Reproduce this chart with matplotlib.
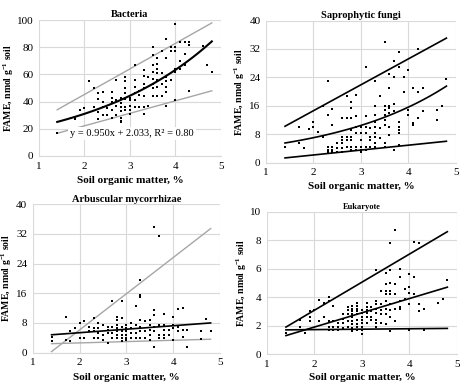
import numpy as np
from matplotlib import pyplot as plt

# soil organic matter (%) and FAME (nmol g-1 soil)
bact_som = [1.4, 1.7, 1.8, 1.8, 1.9, 2.0, 2.1, 2.2, 2.2,
            2.3, 2.3, 2.3, 2.3, 2.4, 2.4, 2.4, 2.4, 2.5, 2.5,
            2.6, 2.6, 2.6, 2.6, 2.6, 2.7, 2.7, 2.7, 2.7,
            2.8, 2.8, 2.8, 2.8, 2.8, 2.8, 2.8,
            2.9, 2.9, 2.9, 2.9, 2.9, 2.9, 2.9,
            3.0, 3.0, 3.0, 3.0, 3.0, 3.1, 3.1, 3.1, 3.1, 3.1, 3.1,
            3.2, 3.2, 3.2, 3.3, 3.3, 3.3, 3.3, 3.3, 3.3, 3.3, 3.4, 3.4,
            3.5, 3.5, 3.5, 3.5, 3.5, 3.5, 3.5, 3.5,
            3.6, 3.6, 3.6, 3.6, 3.6, 3.6, 3.6, 3.7, 3.7, 3.7, 3.7,
            3.8, 3.8, 3.8, 3.8, 3.8, 3.8, 3.8, 3.9, 3.9, 3.9,
            4.0, 4.0, 4.0, 4.0, 4.0, 4.0, 4.1, 4.1, 4.1, 4.2, 4.2, 4.2,
            4.3, 4.3, 4.3, 4.6, 4.7, 4.8]
bact_fame = [17, 28, 28, 27, 34, 35, 55, 50, 36,
             46, 42, 32, 27, 47, 40, 36, 30, 35, 30,
             47, 43, 40, 34, 28, 56, 41, 37, 30,
             43, 39, 36, 33, 28, 26, 25,
             58, 55, 50, 46, 42, 36, 34,
             43, 41, 37, 34, 31, 67, 56, 51, 46, 41, 36,
             48, 45, 36, 63, 59, 53, 50, 44, 36, 31, 58, 37,
             80, 74, 67, 62, 57, 53, 50, 44,
             72, 68, 64, 61, 56, 51, 44, 77, 61, 53, 44,
             86, 72, 58, 55, 51, 47, 37, 80, 77, 56,
             97, 80, 77, 64, 62, 41, 84, 70, 64, 84, 75, 67,
             84, 82, 48, 81, 67, 62]

sapro_som = [1.4, 1.7, 1.7, 1.8, 1.9, 2.0, 2.0, 2.1, 2.2, 2.2,
             2.3, 2.3, 2.3, 2.3, 2.3, 2.4, 2.4, 2.4, 2.4, 2.4, 2.5, 2.5, 2.5,
             2.6, 2.6, 2.6, 2.6, 2.6, 2.6, 2.7, 2.7, 2.7, 2.7, 2.7,
             2.8, 2.8, 2.8, 2.8, 2.8, 2.8, 2.8, 2.8,
             2.9, 2.9, 2.9, 2.9, 2.9, 2.9, 3.0, 3.0, 3.0, 3.0, 3.0, 3.0,
             3.1, 3.1, 3.1, 3.1, 3.1, 3.1, 3.2, 3.2, 3.2, 3.2,
             3.3, 3.3, 3.3, 3.3, 3.3, 3.3, 3.3, 3.3, 3.3, 3.4, 3.4, 3.4,
             3.5, 3.5, 3.5, 3.5, 3.5, 3.5, 3.5, 3.5,
             3.6, 3.6, 3.6, 3.6, 3.6, 3.6, 3.6, 3.7, 3.7, 3.7, 3.7, 3.7,
             3.8, 3.8, 3.8, 3.8, 3.8, 3.8, 3.8, 3.9, 3.9,
             4.0, 4.0, 4.0, 4.1, 4.1, 4.1, 4.2, 4.2, 4.2, 4.3, 4.3,
             4.6, 4.6, 4.7, 4.8]
sapro_fame = [4.5, 10, 5.5, 4, 9.4, 10, 11.5, 8.5, 16, 7.3,
              23, 13.5, 4.5, 3.5, 3, 15, 10.5, 4.5, 3.5, 3, 5.5, 4, 3,
              12.5, 7.3, 6.4, 5.5, 4, 3, 18.6, 12.5, 7.3, 6.4, 4.5,
              17, 15.3, 12.5, 9.2, 7.3, 6.4, 4.5, 3.6,
              19, 13, 10, 8.3, 4.5, 3.6, 10, 8.3, 6.4, 4.5, 3.6, 3,
              27, 13, 10, 8.3, 4.5, 3.6, 9.6, 7.3, 6.4, 4.5,
              23, 16, 13.5, 11.5, 10, 8.3, 7.3, 5.5, 4.5, 18.6, 9.6, 6.8,
              34, 15.8, 14.8, 13.5, 12, 10.6, 5.5, 4.5,
              25, 21, 16, 15.3, 14, 10, 7.8, 28.5, 24, 16.5, 14.4, 3.6,
              31, 27, 11.5, 10, 9.2, 8.3, 5, 24, 20,
              26, 14.8, 13.5, 21, 11, 10.6, 32, 20, 12.5, 21, 14.4,
              14.8, 12, 15.8, 23.5]

am_som = [1.4, 1.4, 1.7, 1.7, 1.8, 1.8, 1.9, 2.0, 2.0, 2.1, 2.1, 2.2, 2.2,
          2.3, 2.3, 2.3, 2.3, 2.4, 2.4, 2.4, 2.4, 2.5, 2.5, 2.5,
          2.6, 2.6, 2.6, 2.6, 2.7, 2.7, 2.7, 2.7,
          2.8, 2.8, 2.8, 2.8, 2.8, 2.8, 2.8, 2.9, 2.9, 2.9, 2.9, 2.9, 2.9, 2.9,
          3.0, 3.0, 3.0, 3.0, 3.0, 3.0, 3.1, 3.1, 3.1, 3.1,
          3.2, 3.2, 3.2, 3.2, 3.3, 3.3, 3.3, 3.3, 3.3, 3.3, 3.3,
          3.4, 3.4, 3.4, 3.5, 3.5, 3.5, 3.5, 3.5,
          3.6, 3.6, 3.6, 3.6, 3.6, 3.6, 3.7, 3.7, 3.7, 3.7,
          3.8, 3.8, 3.8, 3.8, 3.8, 3.9, 3.9, 4.0, 4.0, 4.0, 4.0,
          4.1, 4.1, 4.1, 4.2, 4.2, 4.2, 4.3, 4.3, 4.6, 4.6, 4.7, 4.8]
am_fame = [4.3, 3.1, 9.5, 3.4, 5.8, 3.1, 6.5, 8.1, 4, 8.4, 4, 7, 5.7,
           9.4, 6.6, 5.7, 4, 8.1, 6.6, 5.2, 4, 7.5, 4.8, 3.4,
           7, 6.1, 5.2, 2.7, 14, 7, 5.2, 3.9,
           9.7, 8.8, 7.5, 6.6, 5.7, 4.8, 3.9, 13.8, 9.4, 7, 5.7, 4.8, 3.9, 3.1,
           7.5, 6.6, 5.7, 4.8, 4, 3.4, 7.9, 6.6, 5.2, 4,
           12.6, 7.5, 5.2, 3.9, 19.6, 15.5, 15.1, 8.8, 7, 5.7, 4,
           8.4, 5.7, 3.9, 8.8, 7.5, 6.1, 4.8, 3.4,
           34, 11.5, 10.2, 7, 5.7, 1.6, 31.5, 7.5, 4.8, 4,
           10.4, 7.5, 6.1, 4.8, 4, 6.1, 4.8, 9.7, 7.5, 6.6, 3.4,
           11.8, 7, 5.7, 12.1, 6.1, 4.3, 6.1, 1.6, 5.7, 3.7, 9.1, 5.8]

euk_som = [1.4, 1.7, 1.7, 1.8, 1.9, 1.9, 1.9, 2.0, 2.1, 2.1, 2.2, 2.2,
           2.3, 2.3, 2.3, 2.3, 2.3, 2.4, 2.4, 2.4, 2.4, 2.5, 2.5, 2.5,
           2.6, 2.6, 2.6, 2.6, 2.7, 2.7, 2.7, 2.7, 2.7,
           2.8, 2.8, 2.8, 2.8, 2.8, 2.8, 2.8, 2.8, 2.8,
           2.9, 2.9, 2.9, 2.9, 2.9, 2.9, 2.9, 2.9, 2.9,
           3.0, 3.0, 3.0, 3.0, 3.0, 3.0, 3.0, 3.0,
           3.1, 3.1, 3.1, 3.1, 3.1, 3.1, 3.2, 3.2, 3.2, 3.2,
           3.3, 3.3, 3.3, 3.3, 3.3, 3.3, 3.3, 3.3, 3.4, 3.4, 3.4, 3.4, 3.4,
           3.5, 3.5, 3.5, 3.5, 3.5, 3.5, 3.5, 3.5,
           3.6, 3.6, 3.6, 3.6, 3.6, 3.6, 3.6, 3.6, 3.6,
           3.7, 3.7, 3.7, 3.7, 3.7, 3.8, 3.8, 3.8, 3.8, 3.8, 3.9, 3.9,
           4.0, 4.0, 4.0, 4.0, 4.0, 4.1, 4.1, 4.1, 4.2, 4.2, 4.2, 4.3, 4.3,
           4.6, 4.7, 4.8]
euk_fame = [1.5, 2.4, 1.9, 1.5, 2.6, 2.3, 3.0, 3.1, 3.8, 2.3, 2.6, 3.6,
            4.0, 3.7, 2.3, 1.9, 1.7, 3.4, 2.3, 1.9, 1.7, 2.2, 1.9, 1.7,
            2.8, 2.5, 2.2, 1.8, 3.3, 3.1, 2.8, 2.3, 1.9,
            3.4, 3.2, 3.0, 2.8, 2.6, 2.3, 2.1, 1.8, 1.6,
            3.6, 3.4, 3.2, 3.0, 2.8, 2.4, 2.1, 1.9, 1.7,
            3.1, 2.9, 2.6, 2.4, 2.2, 1.9, 1.7, 1.4,
            3.6, 3.3, 3.1, 2.9, 2.6, 2.2, 3.3, 3.0, 2.6, 2.4,
            5.9, 3.7, 3.5, 3.2, 2.9, 2.4, 2.2, 1.9, 4.4, 3.5, 3.1, 2.8, 2.2,
            5.7, 4.9, 4.4, 4.2, 3.7, 3.2, 2.8, 2.1,
            7.8, 5.9, 5.0, 4.4, 4.2, 3.5, 3.1, 2.6, 1.6,
            8.7, 4.9, 4.2, 3.2, 2.3, 6.0, 5.4, 3.7, 3.3, 3.2, 4.6, 3.9,
            5.6, 4.7, 4.3, 3.5, 1.7, 7.9, 5.4, 4.2, 7.8, 3.0, 3.5, 3.2, 1.7,
            3.6, 3.9, 5.2]

# trend lines: (kind, a, b) -> linear a*x + b, exponential a*exp(b*x)
bact_trends = [("exp", 15.2, 0.357), ("lin", 18.8, 7.7), ("lin", 9.2, 3.8)]
sapro_trends = [("lin", 7.3, 0.0), ("exp", 3.14, 0.401), ("lin", 1.38, -0.63)]
am_trends = [("lin", 9.76, -13.4), ("lin", 0.94, 3.48), ("lin", 0.353, 1.9)]
euk_trends = [("lin", 1.97, -0.86), ("lin", 1.0, -0.1), ("lin", 0.03, 1.66)]

trend_x = [1.4, 4.8]
bact_label = "y = 0.950x + 2.033, R² = 0.80"

plt.rcParams['font.family'] = ['Liberation Serif', 'DejaVu Serif']
plt.rcParams['mathtext.default'] = 'regular'

fig = plt.figure(figsize=(4.7, 3.87), dpi=100)


def trend(kind, a, b):
    xs = np.linspace(trend_x[0], trend_x[1], 60)
    if kind == "exp":
        return xs, a * np.exp(b * xs)
    return xs, a * xs + b


def panel(rect, som, fame, trends, colors, widths, title, ymax, ystep,
          ylab_x, xlab_y, title_size=7.5):
    ax = fig.add_axes(rect)
    ax.set_xlim(1, 5)
    ax.set_ylim(0, ymax)
    ax.set_xticks([1, 2, 3, 4, 5])
    ax.set_yticks(np.arange(0, ymax + 0.01, ystep))
    ax.grid(True, color='#d9d9d9', linewidth=0.8)
    ax.set_axisbelow(True)
    for side in ['top', 'right', 'left']:
        ax.spines[side].set_visible(False)
    ax.spines['bottom'].set_color('#d9d9d9')
    ax.tick_params(length=0, labelsize=8, pad=4)
    ax.scatter(som, fame, s=2.2, marker='s', color='black', linewidths=0, zorder=3)
    for (kind, a, b), c, w in zip(trends, colors, widths):
        xs, ys = trend(kind, a, b)
        ax.plot(xs, ys, color=c, linewidth=w, zorder=2)
    ax.set_title(title, fontsize=title_size, fontweight='bold', pad=2)
    ax.set_xlabel("Soil organic matter, %", fontsize=8, fontweight='bold')
    ax.set_ylabel("FAME, nmol g$^{-1}$ soil", fontsize=7, fontweight='bold')
    ax.yaxis.set_label_coords(ylab_x, 0.5)
    ax.xaxis.set_label_coords(0.5, xlab_y)
    return ax


gray = '#a6a6a6'
ax1 = panel([0.083, 0.597, 0.387, 0.351], bact_som, bact_fame, bact_trends,
            ['black', gray, gray], [1.5, 1.0, 1.0], "Bacteria", 100, 20, -0.125, -0.15)
ax1.text(3.05, 16.7, bact_label, fontsize=7.5, ha='center', va='center', zorder=4,
         bbox=dict(facecolor='white', edgecolor='none', pad=1.5))

panel([0.566, 0.580, 0.404, 0.367], sapro_som, sapro_fame, sapro_trends,
      ['black', 'black', 'black'], [1.2, 1.2, 1.2], "Saprophytic fungi", 40, 8,
      -0.1, -0.14)

panel([0.070, 0.089, 0.398, 0.383], am_som, am_fame, am_trends,
      [gray, 'black', gray], [1.0, 1.2, 1.0], "Arbuscular mycorrhizae", 40, 8,
      -0.1, -0.135)

panel([0.568, 0.085, 0.404, 0.368], euk_som, euk_fame, euk_trends,
      ['black', 'black', 'black'], [1.2, 1.2, 1.2], "Eukaryote", 10, 2,
      -0.095, -0.13, title_size=6)

fig.savefig("out.png", dpi=100)
